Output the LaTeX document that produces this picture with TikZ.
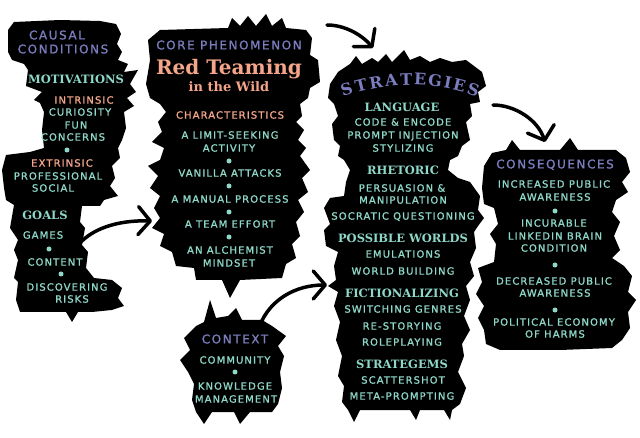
\documentclass[tikz,border=0pt]{standalone}
\usepackage{fontspec}
\usetikzlibrary{arrows.meta}
\newfontfamily\capsf{DejaVu Sans}[LetterSpace=11,FakeBold=1.2]
\newfontfamily\capsft{DejaVu Sans}[LetterSpace=13,FakeBold=1.2]
\newfontfamily\hdf{DejaVu Serif}
\definecolor{mint}{HTML}{8ED8C8}
\definecolor{lav}{HTML}{7B7DBE}
\definecolor{salm}{HTML}{F4A58A}
\tikzset{
  blob/.style={fill=black},
  tt/.style={text=mint, font=\capsf\fontsize{10}{12}\selectfont, inner sep=0pt, text height=7.3pt, text depth=0pt},
  sal/.style={tt, text=salm},
  ttl/.style={text=lav, font=\capsft\fontsize{12}{14}\selectfont, inner sep=0pt, text height=8.8pt, text depth=0pt},
  hd/.style={text=mint, font=\hdf\bfseries\fontsize{11.5}{13}\selectfont, inner sep=0pt, text height=8.4pt, text depth=0pt},
  bigt/.style={text=salm, font=\hdf\bfseries\fontsize{20}{22}\selectfont, inner sep=0pt, anchor=base},
  midt/.style={text=salm, font=\hdf\bfseries\fontsize{13}{15}\selectfont, inner sep=0pt, anchor=base},
  archl/.style={text=lav, font=\hdf\bfseries\fontsize{16}{16}\selectfont, inner sep=0pt, anchor=base},
  dotm/.style={circle, fill=mint, inner sep=0pt, minimum size=5pt},
  arr/.style={line width=3.5pt, line cap=round, line join=round, -{Straight Barb[length=12pt, width=28pt, line cap=round, line join=round]}}
}
\begin{document}
\begin{tikzpicture}[x=1pt,y=-1pt]
\fill[white] (0,0) rectangle (640,438);
\useasboundingbox (0,0) rectangle (640,438);

% ---------- left blob ----------
\fill[blob] (14,22) -- (60,20) -- (100,21) -- (116,24) -- (121,34) -- (117,44) -- (122,52) -- (118,60) -- (128,64) -- (124,72) -- (138,70) -- (130,84) -- (136,92) -- (127,98) -- (134,106) -- (124,112) -- (126,128) -- (122,140) -- (118,148) -- (120,158) -- (112,166) -- (115,178) -- (110,186) -- (118,196) -- (104,200) -- (100,206) -- (82,206) -- (80,222) -- (85,228) -- (82,245) -- (88,252) -- (86,268) -- (94,278) -- (112,280) -- (122,288) -- (118,298) -- (124,306) -- (112,310) -- (92,312) -- (78,312) -- (72,322) -- (66,312) -- (20,312) -- (16,300) -- (18,282) -- (14,278) -- (18,260) -- (14,250) -- (18,240) -- (10,228) -- (14,205) -- (6,200) -- (4,188) -- (2,170) -- (6,155) -- (30,152) -- (44,148) -- (42,130) -- (44,112) -- (40,103) -- (34,100) -- (42,92) -- (26,86) -- (28,70) -- (24,64) -- (12,60) -- (8,52) -- (8,30) -- cycle;

% ---------- core blob ----------
\fill[blob] (160,30) -- (228,28) -- (232,18) -- (240,26) -- (248,16) -- (256,26) -- (266,14) -- (272,26) -- (282,18) -- (286,28) -- (306,30) -- (312,38) -- (310,55) -- (318,60) -- (320,82) -- (310,88) -- (308,98) -- (300,104) -- (302,116) -- (296,122) -- (304,130) -- (298,140) -- (306,148) -- (300,156) -- (310,170) -- (302,178) -- (308,192) -- (298,200) -- (304,212) -- (296,222) -- (300,236) -- (292,244) -- (296,258) -- (286,264) -- (282,278) -- (240,280) -- (230,298) -- (222,280) -- (196,280) -- (194,268) -- (176,266) -- (172,252) -- (160,246) -- (164,234) -- (152,228) -- (160,218) -- (154,208) -- (160,196) -- (150,188) -- (158,176) -- (148,166) -- (160,160) -- (164,148) -- (152,142) -- (162,132) -- (158,122) -- (166,112) -- (160,104) -- (150,98) -- (146,84) -- (150,60) -- (148,40) -- cycle;

% ---------- strategies blob ----------
\fill[blob] (338,72) -- (350,64) -- (356,56) -- (362,64) -- (372,58) -- (378,62) -- (386,54) -- (392,62) -- (404,50) -- (410,60) -- (420,56) -- (430,62) -- (440,58) -- (452,62) -- (466,60) -- (474,66) -- (482,72) -- (486,86) -- (478,92) -- (480,102) -- (470,104) -- (472,116) -- (466,122) -- (470,140) -- (462,146) -- (458,156) -- (450,160) -- (448,170) -- (458,178) -- (470,182) -- (480,196) -- (478,210) -- (484,218) -- (478,226) -- (474,232) -- (476,248) -- (470,262) -- (474,276) -- (466,286) -- (470,300) -- (464,316) -- (470,330) -- (462,344) -- (464,356) -- (458,372) -- (466,388) -- (460,404) -- (452,410) -- (450,420) -- (444,410) -- (420,410) -- (416,420) -- (410,410) -- (360,410) -- (354,422) -- (348,410) -- (342,402) -- (344,386) -- (338,376) -- (342,356) -- (336,340) -- (340,322) -- (334,306) -- (338,292) -- (328,286) -- (336,280) -- (334,266) -- (338,252) -- (326,246) -- (324,230) -- (330,224) -- (324,208) -- (330,198) -- (344,196) -- (346,182) -- (350,170) -- (344,160) -- (338,156) -- (340,146) -- (334,140) -- (332,124) -- (338,116) -- (334,104) -- (328,98) -- (330,84) -- cycle;

% ---------- consequences blob ----------
\fill[blob] (492,153) -- (506,150) -- (512,140) -- (520,150) -- (560,150) -- (570,138) -- (578,150) -- (616,150) -- (626,158) -- (630,172) -- (622,182) -- (628,192) -- (616,200) -- (612,212) -- (620,222) -- (614,236) -- (620,250) -- (612,258) -- (624,266) -- (632,276) -- (628,292) -- (636,300) -- (628,312) -- (630,328) -- (622,340) -- (612,348) -- (560,350) -- (500,350) -- (486,344) -- (484,330) -- (478,318) -- (484,306) -- (476,294) -- (482,282) -- (478,268) -- (494,262) -- (496,244) -- (490,234) -- (498,224) -- (494,208) -- (484,204) -- (482,188) -- (484,166) -- cycle;

% ---------- context blob ----------
\fill[blob] (196,326) -- (204,322) -- (210,300) -- (216,318) -- (228,316) -- (236,308) -- (242,320) -- (262,320) -- (272,326) -- (286,336) -- (278,346) -- (284,356) -- (280,372) -- (282,388) -- (278,404) -- (272,412) -- (250,412) -- (240,424) -- (234,412) -- (212,412) -- (204,424) -- (196,412) -- (192,400) -- (194,384) -- (188,372) -- (180,360) -- (190,350) -- (184,338) -- cycle;

% ---------- left texts ----------
\node[ttl] (causal) at (57,35) {CAUSAL};
\node[ttl] (cond) at (63,49) {CONDITIONS};
\node[hd] (motiv) at (76,79) {MOTIVATIONS};
\node[sal] (intr) at (84,100) {INTRINSIC};
\node[tt] (curio) at (80,112) {CURIOSITY};
\node[tt] (fun) at (76,125) {FUN};
\node[tt] (conc) at (73,137) {CONCERNS};
\node[dotm] (d1) at (67,150) {};
\node[sal] (extr) at (62,163) {EXTRINSIC};
\node[tt] (prof) at (58,176) {PROFESSIONAL};
\node[tt] (soc) at (53,188) {SOCIAL};
\node[hd] (goals) at (45,215) {GOALS};
\node[tt] (games) at (43,235) {GAMES};
\node[dotm] (d2) at (49,249) {};
\node[tt] (content) at (55,262) {CONTENT};
\node[dotm] (d3) at (61,274) {};
\node[tt] (disc) at (67,287) {DISCOVERING};
\node[tt] (risks) at (72,299) {RISKS};

% ---------- core texts ----------
\node[ttl] (corep) at (229,45) {CORE PHENOMENON};
\node[bigt] (redt) at (229,75) {Red Teaming};
\node[midt] (wild) at (229,92) {in the Wild};
\node[sal] (charac) at (230,115) {CHARACTERISTICS};
\node[tt] (c1) at (230,135) {A LIMIT-SEEKING};
\node[tt] (c1b) at (229,148) {ACTIVITY};
\node[dotm] (d4) at (229,161) {};
\node[tt] (c2) at (230,173) {VANILLA ATTACKS};
\node[dotm] (d5) at (229,186) {};
\node[tt] (c3) at (230,199) {A MANUAL PROCESS};
\node[dotm] (d6) at (229,212) {};
\node[tt] (c4) at (230,224) {A TEAM EFFORT};
\node[dotm] (d7) at (229,237) {};
\node[tt] (c5) at (230,250) {AN ALCHEMIST};
\node[tt] (c5b) at (229,263) {MINDSET};

% ---------- strategies arched title ----------
\node[archl, rotate=17.7] (L1) at (348.5,94.8) {S};
\node[archl, rotate=13.9] (L2) at (362.3,90.9) {T};
\node[archl, rotate=9.8] (L3) at (376.8,87.9) {R};
\node[archl, rotate=5.4] (L4) at (391.8,85.9) {A};
\node[archl, rotate=1.1] (L5) at (406.3,85.0) {T};
\node[archl, rotate=-3.0] (L6) at (420.0,85.3) {E};
\node[archl, rotate=-7.3] (L7) at (434.5,86.6) {G};
\node[archl, rotate=-10.8] (L8) at (446.8,88.5) {I};
\node[archl, rotate=-14.0] (L9) at (458.0,91.0) {E};
\node[archl, rotate=-17.7] (L10) at (471.5,94.8) {S};

% ---------- strategies texts ----------
\node[hd] (lang) at (402,107) {LANGUAGE};
\node[tt] (s1) at (403,122) {CODE \& ENCODE};
\node[tt] (s2) at (403,135) {PROMPT INJECTION};
\node[tt] (s3) at (403,148) {STYLIZING};
\node[hd] (rhet) at (403,170) {RHETORIC};
\node[tt] (s4) at (402,188) {PERSUASION \&};
\node[tt] (s5) at (403,200) {MANIPULATION};
\node[tt] (s6) at (403,216) {SOCRATIC QUESTIONING};
\node[hd] (poss) at (403,238) {POSSIBLE WORLDS};
\node[tt] (s7) at (403,254) {EMULATIONS};
\node[tt] (s8) at (403,271) {WORLD BUILDING};
\node[hd] (fict) at (402,293) {FICTIONALIZING};
\node[tt] (s9) at (403,309) {SWITCHING GENRES};
\node[tt] (s10) at (402,326) {RE-STORYING};
\node[tt] (s11) at (402,342) {ROLEPLAYING};
\node[hd] (strg) at (402,364) {STRATEGEMS};
\node[tt] (s12) at (403,380) {SCATTERSHOT};
\node[tt] (s13) at (402,396) {META-PROMPTING};

% ---------- consequences texts ----------
\node[ttl] (cons) at (555,164) {CONSEQUENCES};
\node[tt] (q1) at (554,184) {INCREASED PUBLIC};
\node[tt] (q1b) at (555,197) {AWARENESS};
\node[dotm] (d8) at (555,211) {};
\node[tt] (q2) at (554,223) {INCURABLE};
\node[tt] (q2b) at (555,236) {LINKEDIN BRAIN};
\node[tt] (q2c) at (554,248) {CONDITION};
\node[dotm] (d9) at (555,265) {};
\node[tt] (q3) at (554,281) {DECREASED PUBLIC};
\node[tt] (q3b) at (555,293) {AWARENESS};
\node[dotm] (d10) at (555,310) {};
\node[tt] (q4) at (554,322) {POLITICAL ECONOMY};
\node[tt] (q4b) at (555,334) {OF HARMS};

% ---------- context texts ----------
\node[ttl] (ctx) at (235,339) {CONTEXT};
\node[tt] (x1) at (235,360) {COMMUNITY};
\node[dotm] (d11) at (235,372) {};
\node[tt] (x2) at (235,386) {KNOWLEDGE};
\node[tt] (x3) at (236,399) {MANAGEMENT};

% ---------- arrows ----------
\coordinate (a1s) at (80,243);
\coordinate (a1e) at (152,221);
\coordinate (a2s) at (327,25);
\coordinate (a2e) at (373,48);
\coordinate (a3s) at (493,105);
\coordinate (a3e) at (545,142);
\coordinate (a4s) at (260,325);
\coordinate (a4e) at (327,285);
\draw[arr] (a1s) .. controls (92,230) and (115,220) .. (a1e);
\draw[arr] (a2s) .. controls (345,25) and (362,35) .. (a2e);
\draw[arr] (a3s) .. controls (515,105) and (538,120) .. (a3e);
\draw[arr] (a4s) .. controls (270,300) and (295,285) .. (a4e);
\end{tikzpicture}
\end{document}
